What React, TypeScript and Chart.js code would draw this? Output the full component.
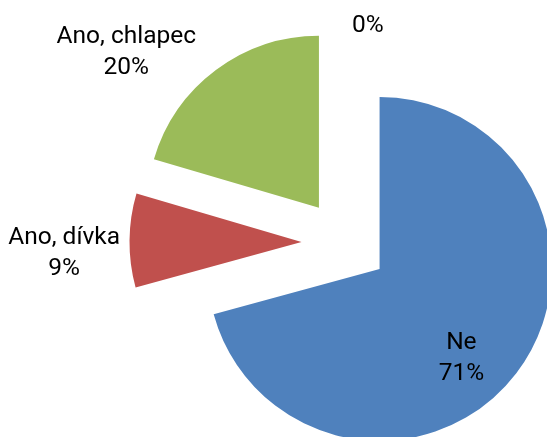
import React, { useEffect, useRef } from 'react';
import { Chart, registerables } from 'chart.js';

Chart.register(...registerables);

// ---- data ----
const categories: string[] = ['Ne', 'Ano, dívka', 'Ano, chlapec', ''];
const shares: number[] = [70.75, 8.8, 20.45, 0];
const sliceColors: string[] = ['#4F81BD', '#C0504D', '#9BBB59', '#8064A2'];

// ---- style ----
const PIE_RADIUS = 172;
const EXPLODE = 43.5;
const LABEL_FONT = '24.5px Roboto, "Open Sans", sans-serif';
const LINE_HEIGHT = 31;
const CAP_RATIO = 0.711;
// label placement relative to each (exploded) slice: angular turn from the slice mid-angle (deg) and distance in radii
const labelPlacement = [
  { turn: 9.4, dist: 0.694 },
  { turn: -2.7, dist: 1.381 },
  { turn: -13.8, dist: 1.449 },
  { turn: 7.4, dist: 1.03 },
];

const explodePlugin = {
  id: 'explodeSlices',
  beforeDatasetDraw(chart: any, args: any, opts: any) {
    const ctx = chart.ctx;
    const d = opts.distance || 0;
    args.meta.data.forEach((arc: any) => {
      const mid = (arc.startAngle + arc.endAngle) / 2;
      ctx.save();
      ctx.translate(Math.cos(mid) * d, Math.sin(mid) * d);
      arc.draw(ctx, chart.chartArea);
      ctx.restore();
    });
    return false;
  },
};

const labelPlugin = {
  id: 'sliceLabels',
  afterDatasetsDraw(chart: any, _args: any, opts: any) {
    const ctx = chart.ctx;
    const meta = chart.getDatasetMeta(0);
    const values: number[] = chart.data.datasets[0].data;
    const labels: string[] = chart.data.labels;
    const total = values.reduce((a, b) => a + b, 0);
    const d = opts.distance || 0;
    meta.data.forEach((arc: any, i: number) => {
      const mid = (arc.startAngle + arc.endAngle) / 2;
      const cx = arc.x + Math.cos(mid) * d;
      const cy = arc.y + Math.sin(mid) * d;
      const p = opts.placement[i];
      const a = mid + (p.turn * Math.PI) / 180;
      const r = p.dist * arc.outerRadius;
      const x = cx + Math.cos(a) * r;
      const y = cy + Math.sin(a) * r;
      const pct = Math.round((values[i] / total) * 100) + '%';
      const lines = [labels[i], pct].filter((s) => s && s.length > 0);
      ctx.save();
      ctx.font = opts.font;
      ctx.fillStyle = '#000000';
      ctx.textAlign = 'center';
      ctx.textBaseline = 'alphabetic';
      const capH = opts.capRatio * parseFloat(opts.font);
      const n = lines.length;
      lines.forEach((line, k) => {
        const lineCenter = y + (k - (n - 1) / 2) * opts.lineHeight;
        ctx.fillText(line, x, lineCenter + capH / 2);
      });
      ctx.restore();
    });
  },
};

export default function App() {
  const canvasRef = useRef<HTMLCanvasElement | null>(null);

  useEffect(() => {
    if (!canvasRef.current) return;
    const chart = new Chart(canvasRef.current, {
      type: 'pie',
      data: {
        labels: categories,
        datasets: [
          {
            data: shares,
            backgroundColor: sliceColors,
            borderWidth: 0,
            radius: PIE_RADIUS,
          } as any,
        ],
      },
      options: {
        responsive: false,
        animation: false,
        events: [],
        layout: { padding: { left: 143, top: 48, right: 0, bottom: 0 } },
        plugins: {
          legend: { display: false },
          tooltip: { enabled: false },
          explodeSlices: { distance: EXPLODE },
          sliceLabels: {
            distance: EXPLODE,
            placement: labelPlacement,
            font: LABEL_FONT,
            lineHeight: LINE_HEIGHT,
            capRatio: CAP_RATIO,
          },
        } as any,
      },
      plugins: [explodePlugin, labelPlugin],
    });
    return () => chart.destroy();
  }, []);

  return (
    <div style={{ position: 'fixed', left: 0, top: 0, width: 547, height: 437, background: '#ffffff' }}>
      <canvas ref={canvasRef} width={547} height={437} style={{ display: 'block' }} />
    </div>
  );
}
